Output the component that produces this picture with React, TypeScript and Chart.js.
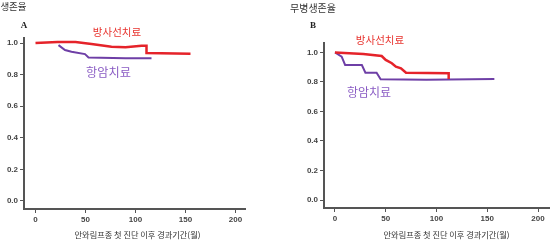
import React, { useEffect, useRef } from "react";
import { Chart, registerables } from "chart.js";
Chart.register(...registerables);

// ---- data ----
const xTickValues = [0, 50, 100, 150, 200];
const yTickValues = [0, 0.2, 0.4, 0.6, 0.8, 1.0];

// Panel A: overall survival
const osRadMonths = [0, 22, 40, 56, 76, 90, 106, 111, 111, 155];
const osRadSurv = [1.0, 1.007, 1.007, 0.994, 0.977, 0.973, 0.983, 0.983, 0.937, 0.933];
const osChemoMonths = [23, 29.5, 36, 49.5, 53, 90, 116];
const osChemoSurv = [0.987, 0.956, 0.945, 0.93, 0.909, 0.903, 0.903];

// Panel B: disease-free survival
const dfsRadMonths = [0, 28, 46, 50, 56, 60, 65, 70, 112, 112];
const dfsRadSurv = [1.0, 0.99, 0.976, 0.949, 0.927, 0.904, 0.893, 0.863, 0.859, 0.82];
const dfsChemoMonths = [0, 6.6, 10, 26.5, 30, 41, 45, 90, 157];
const dfsChemoSurv = [1.0, 0.972, 0.915, 0.915, 0.863, 0.863, 0.818, 0.815, 0.82];

const RED = "#e5232a";
const PURPLE = "#6e3fa6";
const RED_TEXT = "#e8342f";
const PURPLE_TEXT = "#8a5cc4";
const AXIS = "#555555";
const TICKFONT = { family: "'Liberation Sans', Arial, sans-serif", size: 8, weight: "bold" as const };
const KR = "'Noto Sans CJK KR', 'Noto Sans', sans-serif";

function pts(xs: number[], ys: number[]) {
  return xs.map((x, i) => ({ x, y: ys[i] }));
}

type PanelProps = {
  left: number;
  width: number;
  xMin: number;
  xMax: number;
  yMin: number;
  yMax: number;
  yAxisWidth: number;
  xAxisHeight: number;
  padTop: number;
  padRight: number;
  red: { x: number; y: number }[];
  purple: { x: number; y: number }[];
};

function Panel(p: PanelProps) {
  const ref = useRef<HTMLCanvasElement | null>(null);
  useEffect(() => {
    if (!ref.current) return;
    const chart = new Chart(ref.current, {
      type: "line",
      data: {
        datasets: [
          { data: p.red, borderColor: RED, borderWidth: 2.5, pointRadius: 0, fill: false, tension: 0 },
          { data: p.purple, borderColor: PURPLE, borderWidth: 2, pointRadius: 0, fill: false, tension: 0 },
        ],
      },
      options: {
        responsive: false,
        animation: false,
        events: [],
        layout: { padding: { left: 0, top: p.padTop, right: p.padRight, bottom: 0 } },
        plugins: { legend: { display: false }, tooltip: { enabled: false } },
        scales: {
          x: {
            type: "linear",
            min: p.xMin,
            max: p.xMax,
            afterBuildTicks: (s: any) => {
              s.ticks = xTickValues.map((v) => ({ value: v }));
            },
            afterFit: (s: any) => {
              s.height = p.xAxisHeight;
            },
            ticks: {
              font: TICKFONT,
              color: "#444",
              padding: 2,
              maxRotation: 0,
              autoSkip: false,
              callback: (v: any) => String(v),
            },
            grid: { display: true, drawOnChartArea: false, drawTicks: true, tickLength: 4, color: AXIS, lineWidth: 1 },
            border: { display: true, color: AXIS, width: 2 },
          },
          y: {
            type: "linear",
            min: p.yMin,
            max: p.yMax,
            afterBuildTicks: (s: any) => {
              s.ticks = yTickValues.map((v) => ({ value: v }));
            },
            afterFit: (s: any) => {
              s.width = p.yAxisWidth;
            },
            ticks: {
              font: TICKFONT,
              color: "#444",
              padding: 2,
              autoSkip: false,
              callback: (v: any) => Number(v).toFixed(1),
            },
            grid: { display: true, drawOnChartArea: false, drawTicks: true, tickLength: 4, color: AXIS, lineWidth: 1 },
            border: { display: true, color: AXIS, width: 2 },
          },
        },
      },
    });
    return () => chart.destroy();
  }, []);
  return (
    <canvas
      ref={ref}
      width={p.width}
      height={242}
      style={{ position: "absolute", left: p.left, top: 0, width: p.width, height: 242 }}
    />
  );
}

function Label(props: { text: string; cx: number; cy: number; size: number; color: string; family?: string; weight?: string }) {
  return (
    <div
      style={{
        position: "absolute",
        left: props.cx,
        top: props.cy,
        transform: "translate(-50%, -50%)",
        whiteSpace: "nowrap",
        fontFamily: props.family || KR,
        fontSize: props.size,
        fontWeight: (props.weight as any) || "normal",
        color: props.color,
        lineHeight: 1,
      }}
    >
      {props.text}
    </div>
  );
}

export default function App() {
  return (
    <div style={{ position: "fixed", left: 0, top: 0, width: 550, height: 242, background: "#fff", overflow: "hidden" }}>
      <Panel
        left={0}
        width={275}
        xMin={-11.5}
        xMax={209.5}
        yMin={-0.051}
        yMax={1.032}
        yAxisWidth={24}
        xAxisHeight={33}
        padTop={38}
        padRight={30}
        red={pts(osRadMonths, osRadSurv)}
        purple={pts(osChemoMonths, osChemoSurv)}
      />
      <Panel
        left={275}
        width={275}
        xMin={-10.8}
        xMax={211.8}
        yMin={-0.054}
        yMax={1.064}
        yAxisWidth={49}
        xAxisHeight={34}
        padTop={43}
        padRight={0}
        red={pts(dfsRadMonths, dfsRadSurv)}
        purple={pts(dfsChemoMonths, dfsChemoSurv)}
      />
      <Label text="생존율" cx={13.5} cy={7} size={9.5} color="#333" />
      <Label text="무병생존율" cx={313} cy={8} size={10} color="#333" />
      <Label text="A" cx={24} cy={25} size={9} color="#222" family="'Liberation Serif', serif" weight="bold" />
      <Label text="B" cx={313} cy={25} size={9} color="#222" family="'Liberation Serif', serif" weight="bold" />
      <Label text="방사선치료" cx={117} cy={32} size={10.5} color={RED_TEXT} />
      <Label text="항암치료" cx={108.5} cy={72} size={12.2} color={PURPLE_TEXT} />
      <Label text="방사선치료" cx={380} cy={40} size={10.5} color={RED_TEXT} />
      <Label text="항암치료" cx={369} cy={91.5} size={12} color={PURPLE_TEXT} />
      <Label text="안와림프종 첫 진단 이후 경과기간(월)" cx={137.5} cy={234} size={8.2} color="#333" />
      <Label text="안와림프종 첫 진단 이후 경과기간(월)" cx={446.5} cy={234} size={8.2} color="#333" />
    </div>
  );
}
